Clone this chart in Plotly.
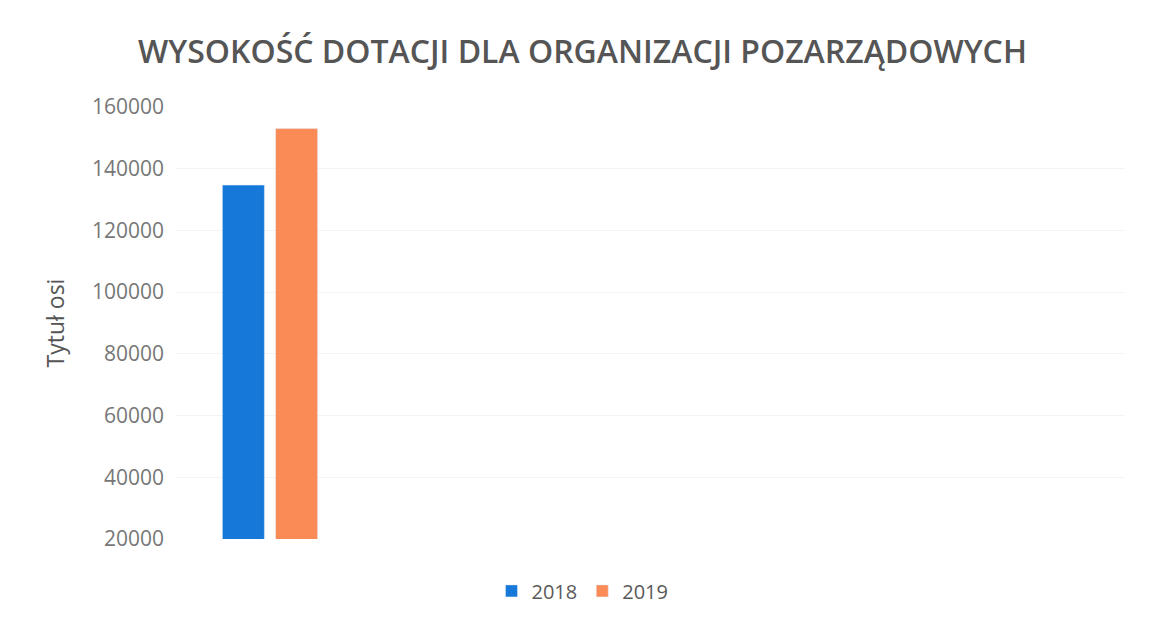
import plotly.graph_objects as go

categories = [0, 1, 2, 3, 4]
values_2018 = [134700, None, None, None, None]
values_2019 = [153000, None, None, None, None]
series_names = ["2018", "2019"]
tick_vals = [20000, 40000, 60000, 80000, 100000, 120000, 140000, 160000]
tick_text = ["20000", "40000", "60000", "80000", "100000", "120000", "140000", "160000"]

fig = go.Figure()
fig.add_trace(go.Bar(x=categories, y=values_2018, name=series_names[0], marker_color="#1679d9"))
fig.add_trace(go.Bar(x=categories, y=values_2019, name=series_names[1], marker_color="#fb8b56"))

fig.update_layout(
    width=1149, height=620,
    paper_bgcolor="white", plot_bgcolor="white",
    margin=dict(l=167, r=32, t=99, b=89, autoexpand=False),
    barmode="group", bargap=0.44, bargroupgap=0.21,
    title=dict(text="WYSOKOŚĆ DOTACJI DLA ORGANIZACJI POZARZĄDOWYCH",
               x=0.5, xanchor="center", xref="container", y=0.929, yanchor="middle",
               font=dict(family="Open Sans", size=32, weight=600, color="#555555")),
    font=dict(family="Open Sans", color="#777777"),
    legend=dict(orientation="h", x=0.5, xanchor="center", xref="container",
                y=-0.075, yanchor="top",
                font=dict(size=20, color="#5a5a5a"), itemwidth=30),
    showlegend=True,
)
fig.update_xaxes(range=[-0.5, 4.5], showticklabels=False, showgrid=False, zeroline=False,
                 showline=False, ticks="")
fig.update_yaxes(range=[20000, 160000], tickvals=tick_vals, ticktext=tick_text,
                 showgrid=True, gridcolor="#f3f3f3", zeroline=False, showline=False,
                 tickfont=dict(size=21, color="#777777"), ticklabelstandoff=10,
                 automargin=False,
                 title=dict(text="Tytuł osi", font=dict(size=23, color="#555555"), standoff=20))

fig.write_html("out.html")
